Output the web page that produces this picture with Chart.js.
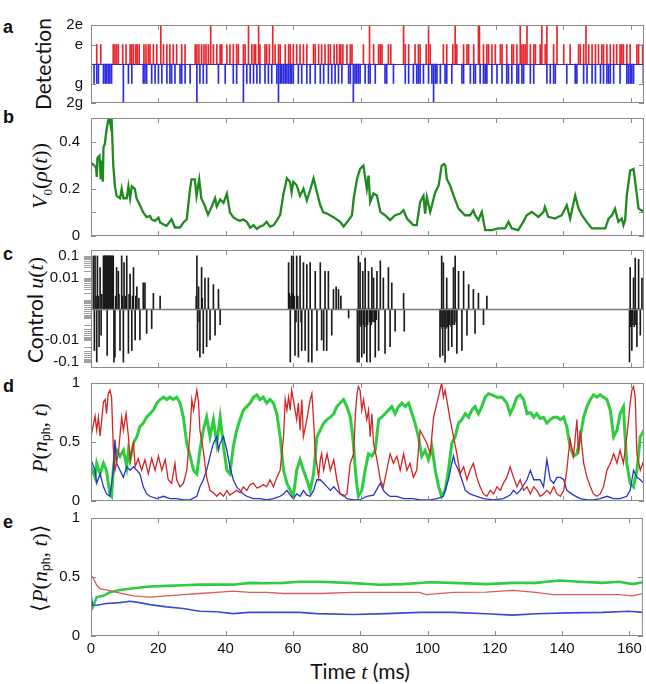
<!DOCTYPE html>
<html><head><meta charset="utf-8">
<script src="https://cdn.jsdelivr.net/npm/chart.js@4/dist/chart.umd.min.js"></script>
<style>
body{margin:0;background:#fff;}
#wrap{position:relative;width:646px;height:684px;overflow:hidden;background:#fff;}
#wrap canvas{position:absolute;left:0;}
.lab{position:absolute;white-space:nowrap;transform:translate(-50%,-50%) rotate(-90deg);font-family:Lato,sans-serif;font-size:21px;color:#111;line-height:1;}
.pl{position:absolute;font:bold 18px "Liberation Sans",sans-serif;color:#111;}
.m{font-family:"Liberation Serif",serif;font-style:italic;}
.r{font-family:"Liberation Serif",serif;font-style:normal;}
sub{font-size:60%;}
.ph{font-family:"Liberation Sans",sans-serif;font-style:normal;font-size:55%;vertical-align:-0.3em;}
</style></head>
<body><div id="wrap">
<div class="pl" style="left:3px;top:17px;">a</div>
<div class="pl" style="left:3px;top:107px;">b</div>
<div class="pl" style="left:3px;top:244px;">c</div>
<div class="pl" style="left:3px;top:376px;">d</div>
<div class="pl" style="left:3px;top:512px;">e</div>
<div class="lab" style="left:42px;top:64px;">Detection</div>
<div class="lab" style="left:41px;top:176px;font-size:22px;"><span class="m">V</span><sub class="r">0</sub><span class="r">(</span><span class="m">ρ</span><span class="r">(</span><span class="m">t</span><span class="r">))</span></div>
<div class="lab" style="left:35px;top:310px;">Control <span class="m" style="font-size:22px;">u</span><span class="r" style="font-size:22px;">(</span><span class="m" style="font-size:22px;">t</span><span class="r" style="font-size:22px;">)</span></div>
<div class="lab" style="left:40px;top:438px;font-size:22px;"><span class="m">P</span><span class="r">(</span><span class="m">n</span><span class="ph">ph</span><span class="r">, </span><span class="m">t</span><span class="r">)</span></div>
<div class="lab" style="left:40px;top:568px;font-size:22px;"><span class="r">⟨</span><span class="m">P</span><span class="r">(</span><span class="m">n</span><span class="ph">ph</span><span class="r">, </span><span class="m">t</span><span class="r">)⟩</span></div>
<div style="position:absolute;left:360px;top:671px;transform:translate(-50%,-50%);white-space:nowrap;font-family:Lato,sans-serif;font-size:21px;color:#111;">Time <span class="m" style="font-size:22px;">t</span> (ms)</div>
</div>
<script>
// ---------------- DATA ----------------
const xTickValues = [0,20,40,60,80,100,120,140,160];
const X_MAX = 164;

// Panel a: detection times (ms)
const detE = [1.7,2.9,6.6,7.1,7.6,8.1,9.4,10.4,11.6,12.1,12.6,13.3,13.7,14.3,15.7,16.3,17.0,17.5,18.5,19.5,21.5,22.5,23.4,24.4,25.4,26.9,27.9,30.9,31.4,32.0,32.8,33.5,34.1,34.8,36.3,37.3,38.3,38.8,40.3,41.2,42.2,43.2,43.7,45.2,45.7,47.7,48.4,48.8,50.1,51.6,52.1,52.9,54.6,55.6,56.1,57.6,58.6,59.1,60.0,61.0,62.0,63.0,64.0,66.0,66.5,67.5,68.4,69.4,70.4,71.0,72.1,72.9,73.7,74.1,74.7,75.9,76.9,77.4,80.8,83.8,85.3,85.8,86.3,88.2,88.9,93.2,94.2,96.1,97.1,97.6,99.4,100.6,104.5,105.5,107.3,108.5,110.5,111.5,112.0,113.5,116.4,117.4,117.9,118.9,119.9,121.4,121.9,123.3,124.8,125.3,126.3,127.8,128.3,128.8,130.3,131.3,131.8,133.2,134.7,137.2,140.2,142.1,144.6,145.1,146.1,147.6,148.6,149.6,150.5,151.5,152.0,153.0,154.0,155.0,155.9,156.9,157.4,157.9,158.9,159.9,161.9,162.4,163.6];
const detE2 = [20.7,35.5,46.7,49.7,53.9,82.6,92.7,100.1,108.0,114.9,115.2,127.3,129.3,133.7,135.2,138.2,146.8];
const detG = [0.9,1.7,2.2,3.7,4.2,4.6,5.1,5.6,6.1,11.1,12.1,15.5,16.0,16.5,18.0,19.0,20.0,21.0,22.5,23.4,23.9,24.9,26.4,26.9,27.9,29.4,32.3,33.3,34.3,37.8,39.8,42.2,43.2,46.2,47.2,48.2,49.2,50.1,51.6,52.6,53.6,55.1,56.1,56.6,57.1,57.6,58.1,58.6,59.1,59.5,60.0,61.5,62.5,64.0,65.0,66.5,68.0,69.0,70.4,71.4,72.4,73.4,74.4,76.4,76.9,78.3,78.8,79.3,79.8,81.3,82.3,82.8,84.3,87.2,87.7,89.7,93.2,94.2,95.6,96.6,97.1,97.6,98.6,100.1,101.1,102.1,102.6,103.6,105.0,105.5,107.0,110.0,110.5,112.5,113.5,114.0,115.4,116.4,116.9,117.4,118.9,120.4,121.9,123.3,123.8,124.8,126.3,126.8,127.8,128.3,130.3,131.3,135.2,136.2,137.2,137.7,141.1,143.6,144.1,146.1,147.1,148.6,149.6,151.1,152.0,153.0,153.5,154.0,155.0,156.9,158.9,159.4,159.9,160.4,160.9,163.8];
const detG2 = [9.6,31.4,45.2,55.6,77.8,101.6];
const detLevels = {e:1, e2:2, g:-1, g2:-2};
const detTickLabels = {'2':'2e','1':'e','-1':'g','-2':'2g'};

// Panel b: V0(rho(t)) as [t, value]
const v0 = [[0,0.31],[0.9,0.30],[1.5,0.29],[1.7,0.25],[1.9,0.33],[2.5,0.34],[2.9,0.24],[3.2,0.32],[3.5,0.23],[3.7,0.375],[4.1,0.39],[4.6,0.45],[5.1,0.49],[5.4,0.50],[5.8,0.47],[6.1,0.50],[6.6,0.30],[7.1,0.21],[7.6,0.17],[8.6,0.16],[9.1,0.20],[9.6,0.16],[10.6,0.16],[11.1,0.21],[11.6,0.16],[12.1,0.21],[13.0,0.20],[13.5,0.16],[14.5,0.13],[15.5,0.10],[16.5,0.08],[17.5,0.085],[18.0,0.07],[19.0,0.064],[20.0,0.078],[20.5,0.057],[21.4,0.05],[22.4,0.043],[23.9,0.071],[24.9,0.036],[26.4,0.036],[27.4,0.057],[28.4,0.071],[29.3,0.19],[29.8,0.24],[30.8,0.24],[31.3,0.17],[32.1,0.24],[32.7,0.16],[33.7,0.13],[34.7,0.09],[35.8,0.125],[36.8,0.16],[37.3,0.125],[38.3,0.155],[39.3,0.14],[40.3,0.18],[41.2,0.10],[42.2,0.08],[43.2,0.07],[44.2,0.065],[45.2,0.07],[46.2,0.06],[47.2,0.035],[48.2,0.045],[49.2,0.03],[50.1,0.04],[51.1,0.045],[52.1,0.06],[53.1,0.04],[54.1,0.045],[55.1,0.065],[56.1,0.09],[57.1,0.18],[58.1,0.245],[59.0,0.23],[59.5,0.185],[60.0,0.23],[61.0,0.215],[62.0,0.17],[63.0,0.2],[64.0,0.15],[65.0,0.195],[66.0,0.245],[67.0,0.185],[68.0,0.13],[68.9,0.10],[70.0,0.095],[71.9,0.08],[73.9,0.06],[74.9,0.04],[76.4,0.067],[77.4,0.088],[77.9,0.158],[78.9,0.243],[79.8,0.284],[80.8,0.298],[81.8,0.20],[82.3,0.256],[82.8,0.144],[83.8,0.18],[84.8,0.172],[85.8,0.102],[87.2,0.088],[88.7,0.067],[90.2,0.088],[91.7,0.095],[92.7,0.109],[93.7,0.074],[95.6,0.046],[96.6,0.046],[97.6,0.144],[98.6,0.17],[99.1,0.095],[99.6,0.165],[100.6,0.102],[102.1,0.186],[103.1,0.214],[104.0,0.298],[104.7,0.305],[105.1,0.298],[105.5,0.243],[106.5,0.214],[107.5,0.172],[109.0,0.116],[110.9,0.088],[112.4,0.088],[113.4,0.109],[113.9,0.088],[114.9,0.067],[115.9,0.102],[116.9,0.025],[118.9,0.025],[120.8,0.032],[122.8,0.032],[123.8,0.06],[124.8,0.032],[126.7,0.025],[128.2,0.06],[129.2,0.088],[130.7,0.102],[132.7,0.081],[134.2,0.102],[134.6,0.123],[135.6,0.081],[137.6,0.074],[139.6,0.088],[141.1,0.13],[142.1,0.074],[143.6,0.172],[144.6,0.116],[145.6,0.088],[147.0,0.06],[148.5,0.032],[150.5,0.032],[152.5,0.032],[153.5,0.074],[154.5,0.088],[155.4,0.116],[156.4,0.06],[157.4,0.074],[157.9,0.046],[158.4,0.067],[158.9,0.172],[159.9,0.277],[160.9,0.284],[161.4,0.228],[162.4,0.116],[164,0.102]];
const v0Ticks = [0,0.1,0.2,0.3,0.4,0.5];
const v0TickLabels = {'0':'0','0.2':'0.2','0.4':'0.4'};

// Panel c: control pulses [t, u]
const control = [
[0.7,0.1],[1.2,0.1],[1.9,0.1],[2.7,0.03],[3.7,0.1],[3.9,0.1],[4.2,0.1],[4.4,0.1],[4.6,0.1],[4.9,0.1],[5.1,0.1],[5.3,0.1],[5.6,0.1],[5.8,0.1],[6.1,0.1],[6.3,0.1],[6.6,0.1],[7.6,0.03],[8.1,0.02],[9.1,0.1],[9.8,0.05],[10.6,0.1],[11.6,0.015],[12.6,0.03],[13.6,0.004],[15.5,0.006],[16.0,0.006],[18.5,0.002],[20.5,0.0015],
[1.5,0.0015],[2.2,0.0015],[3.2,0.0018],[7.3,0.0015],[8.3,0.0018],[9.3,0.0015],[10.2,0.0015],[11.3,0.0018],[12.3,0.0015],[13.3,0.0015],[14.2,0.0012],
[1.0,-0.03],[1.7,-0.1],[2.4,-0.02],[3.0,-0.006],[4.8,-0.05],[6.8,-0.1],[7.1,-0.06],[8.6,-0.03],[9.6,-0.1],[11.1,-0.04],[12.1,-0.03],[13.1,-0.01],[14.5,-0.01],[16.5,-0.005],[18.0,-0.003],
[31.4,0.1],[31.9,0.004],[32.8,0.03],[33.8,0.01],[34.8,0.01],[36.3,0.005],[37.8,0.003],[31.6,-0.03],[32.3,-0.06],[33.3,-0.04],[34.3,-0.02],[35.3,-0.01],[36.8,-0.006],[38.3,-0.002],[31.2,0.0015],[32.1,-0.0015],[33.0,0.0012],
[58.6,0.05],[59.5,0.1],[60.0,0.1],[61.0,0.1],[62.0,0.1],[63.0,0.05],[64.0,0.04],[65.0,0.05],[66.5,0.02],[68.0,0.05],[69.4,0.02],[70.4,0.02],[71.9,0.003],[72.7,0.004],[73.4,0.003],[74.1,0.0015],
[59.1,-0.1],[60.5,-0.05],[61.5,-0.06],[62.5,-0.03],[63.5,-0.03],[64.5,-0.1],[65.5,-0.1],[67.0,-0.03],[68.4,-0.01],[69.0,-0.03],[69.9,-0.03],[71.4,-0.006],[76.4,-0.001],
[58.8,0.002],[59.3,0.0015],[59.8,0.002],[60.3,0.0015],[60.8,-0.0015],[61.3,0.0015],[62.3,-0.0015],
[79.3,0.1],[79.8,0.05],[80.6,0.02],[81.3,0.08],[82.3,0.02],[83.3,0.03],[83.8,0.01],[84.8,0.02],[85.8,0.06],[86.7,0.01],[88.2,0.03],[89.2,0.006],[92.7,0.002],
[79.0,-0.1],[79.5,-0.1],[80.3,-0.06],[81.0,-0.04],[81.8,-0.1],[82.8,-0.1],[84.3,-0.06],[85.3,-0.03],[87.2,-0.04],[88.7,-0.02],[90.2,-0.004],[92.9,-0.004],
[79.7,-0.002],[80.1,-0.0025],[80.8,-0.002],[81.6,-0.0025],[82.0,-0.002],[82.6,-0.0015],[83.1,-0.002],[83.6,-0.0015],[84.1,-0.0015],[84.6,-0.0012],
[104.0,0.1],[104.5,0.05],[105.5,0.01],[107.5,0.03],[108.0,0.1],[109.0,0.02],[110.5,0.02],[112.0,0.005],[113.4,0.003],[114.9,0.002],[117.4,0.0015],
[103.5,-0.06],[104.3,-0.05],[105.0,-0.1],[106.0,-0.03],[107.0,-0.02],[108.5,-0.04],[110.0,-0.03],[111.5,-0.006],[113.9,-0.005],[116.4,-0.002],
[103.8,-0.0025],[104.2,-0.003],[104.7,-0.0025],[105.3,-0.003],[105.8,-0.0025],[106.3,-0.002],[106.8,-0.0025],[107.3,-0.002],[107.8,-0.002],[108.3,-0.0015],
[159.9,0.03],[160.9,0.01],[161.4,0.08],[162.4,0.07],[163.4,0.01],[159.7,-0.1],[160.4,-0.03],[161.9,-0.02],[162.9,-0.006],
[159.8,-0.002],[160.1,-0.0025],[160.6,-0.002],[161.1,-0.0025],[161.6,-0.002]];
const controlTicks = [0.1,0.09,0.08,0.07,0.06,0.05,0.04,0.03,0.02,0.01,0.009,0.008,0.007,0.006,0.005,0.004,0.003,0.002,0.001,0.0009,0.0008,0.0007,0.0006,0.0005,0.0004];
const controlTickLabels = {'-0.1':'-0.1','-0.01':'-0.01','0.01':'0.01','0.1':'0.1'};

// Panel d: P(n_ph, t) single trajectory [t, P]
const pRed = [[0,0.545],[1.2,0.72],[1.7,0.6],[2.2,0.71],[2.7,0.55],[3.7,0.84],[4.2,0.86],[4.6,0.74],[5.1,0.91],[5.6,0.94],[6.1,0.88],[6.6,0.46],[7.1,0.26],[8.1,0.40],[9.1,0.71],[9.6,0.6],[10.4,0.74],[11.1,0.545],[11.6,0.35],[12.6,0.49],[13.1,0.29],[14.0,0.36],[15.0,0.26],[16.0,0.35],[17.0,0.23],[18.0,0.36],[19.0,0.26],[20.0,0.38],[21.0,0.26],[22.0,0.35],[22.9,0.18],[23.9,0.15],[24.9,0.32],[25.4,0.18],[26.4,0.12],[27.4,0.15],[28.4,0.26],[29.4,0.6],[29.9,0.86],[30.4,0.77],[31.4,0.94],[31.9,0.83],[32.3,0.6],[33.3,0.43],[34.3,0.2],[35.3,0.09],[36.3,0.07],[37.3,0.04],[38.3,0.07],[39.3,0.04],[40.3,0.09],[41.2,0.05],[42.2,0.07],[43.2,0.09],[44.2,0.07],[45.2,0.12],[46.2,0.09],[47.2,0.14],[48.2,0.15],[49.2,0.11],[50.1,0.12],[51.1,0.14],[52.1,0.12],[53.1,0.18],[54.1,0.12],[55.1,0.2],[56.1,0.26],[57.1,0.545],[57.6,0.86],[58.1,0.77],[58.6,0.88],[59.1,0.77],[59.5,0.94],[60.0,0.86],[61.0,0.69],[61.5,0.83],[62.0,0.6],[62.5,0.86],[63.0,0.545],[64.0,0.69],[65.0,0.86],[65.5,0.91],[66.0,0.69],[66.5,0.40],[67.5,0.2],[68.0,0.35],[68.4,0.40],[69.0,0.26],[70.0,0.40],[71.0,0.26],[72.0,0.35],[72.9,0.18],[73.9,0.06],[74.9,0.04],[75.9,0.06],[76.9,0.32],[77.9,0.40],[78.4,0.74],[78.9,0.91],[79.3,0.97],[79.8,0.94],[80.3,0.77],[80.8,0.86],[81.8,0.69],[82.3,0.77],[82.8,0.545],[83.3,0.74],[83.8,0.49],[84.8,0.35],[85.8,0.18],[86.7,0.12],[87.7,0.26],[88.7,0.40],[89.7,0.32],[90.7,0.38],[91.7,0.26],[92.7,0.40],[93.7,0.26],[94.6,0.32],[95.6,0.2],[96.6,0.26],[97.6,0.6],[98.6,0.545],[99.6,0.49],[100.6,0.40],[101.6,0.71],[102.6,0.83],[103.5,0.94],[104.0,1.0],[104.5,0.88],[105.0,0.94],[105.5,0.86],[106.5,0.69],[107.5,0.545],[108.5,0.40],[109.5,0.23],[110.5,0.29],[111.5,0.18],[112.4,0.26],[113.4,0.32],[114.4,0.2],[115.4,0.12],[116.4,0.06],[117.4,0.04],[118.4,0.09],[119.4,0.06],[120.4,0.12],[121.4,0.09],[122.3,0.15],[123.3,0.2],[124.3,0.29],[125.3,0.2],[126.3,0.12],[127.3,0.18],[128.3,0.09],[129.3,0.12],[130.3,0.06],[131.3,0.12],[132.2,0.09],[133.2,0.04],[134.2,0.06],[135.2,0.09],[136.2,0.06],[137.2,0.12],[138.2,0.06],[139.2,0.04],[140.2,0.09],[141.1,0.26],[141.6,0.40],[142.1,0.52],[143.1,0.38],[144.1,0.69],[144.6,0.40],[145.1,0.6],[146.1,0.32],[147.1,0.2],[148.1,0.12],[149.0,0.06],[150.0,0.04],[151.0,0.06],[152.0,0.12],[153.0,0.26],[154.0,0.32],[155.0,0.40],[156.0,0.32],[156.9,0.43],[157.9,0.32],[158.9,0.545],[159.9,0.83],[160.4,0.94],[160.9,0.97],[161.4,0.88],[161.9,0.40],[162.9,0.26],[164,0.35]];
const pGreen = [[0,0.29],[1.2,0.2],[1.7,0.32],[2.7,0.23],[3.7,0.32],[4.6,0.26],[5.6,0.06],[6.1,0.04],[6.6,0.26],[7.1,0.40],[7.6,0.43],[8.6,0.38],[9.6,0.43],[10.6,0.29],[11.1,0.43],[11.6,0.35],[12.6,0.49],[13.6,0.545],[14.5,0.63],[15.5,0.66],[16.5,0.71],[17.5,0.74],[18.5,0.77],[19.5,0.83],[20.5,0.86],[21.5,0.88],[22.5,0.86],[23.4,0.88],[24.4,0.86],[25.4,0.88],[26.4,0.83],[27.4,0.71],[28.4,0.49],[29.4,0.38],[30.4,0.26],[31.4,0.23],[32.3,0.43],[33.3,0.6],[34.3,0.71],[35.3,0.545],[36.3,0.69],[37.3,0.49],[38.3,0.71],[39.3,0.46],[40.3,0.26],[41.2,0.23],[42.2,0.46],[43.2,0.6],[44.2,0.69],[45.2,0.77],[46.2,0.8],[47.2,0.83],[48.2,0.88],[49.2,0.9],[50.1,0.86],[51.1,0.88],[52.1,0.83],[53.1,0.86],[54.1,0.83],[55.1,0.74],[56.1,0.545],[57.1,0.26],[58.1,0.15],[59.1,0.09],[60.0,0.04],[61.0,0.26],[62.0,0.35],[63.0,0.26],[64.0,0.18],[65.0,0.09],[66.0,0.23],[67.0,0.545],[68.0,0.6],[69.0,0.66],[70.0,0.69],[71.0,0.71],[72.0,0.74],[72.9,0.8],[73.9,0.83],[74.9,0.86],[75.9,0.8],[76.9,0.71],[77.4,0.6],[77.9,0.46],[78.4,0.26],[78.9,0.12],[79.3,0.04],[80.3,0.09],[81.3,0.26],[82.3,0.40],[83.3,0.38],[84.3,0.43],[85.3,0.69],[86.2,0.71],[87.2,0.74],[88.2,0.77],[89.2,0.8],[90.2,0.74],[91.2,0.8],[92.2,0.83],[93.2,0.8],[94.2,0.83],[95.2,0.74],[96.1,0.66],[97.1,0.545],[98.1,0.38],[99.1,0.43],[100.1,0.35],[101.1,0.46],[102.1,0.26],[103.1,0.12],[104.0,0.04],[105.0,0.09],[106.0,0.26],[107.0,0.49],[108.0,0.545],[109.0,0.66],[110.0,0.69],[111.0,0.74],[112.0,0.71],[112.9,0.77],[113.9,0.8],[114.9,0.74],[115.9,0.8],[116.9,0.88],[117.9,0.91],[118.9,0.9],[120.4,0.88],[121.9,0.88],[123.3,0.83],[124.3,0.74],[125.3,0.8],[126.3,0.88],[127.3,0.9],[128.3,0.86],[129.3,0.74],[130.3,0.75],[131.3,0.71],[132.2,0.74],[133.2,0.7],[134.2,0.71],[135.2,0.66],[136.2,0.69],[137.2,0.71],[138.2,0.71],[139.2,0.69],[140.2,0.71],[141.1,0.63],[142.1,0.46],[143.1,0.38],[144.1,0.40],[145.1,0.545],[146.1,0.71],[147.1,0.8],[148.1,0.86],[149.0,0.9],[150.0,0.88],[151.0,0.9],[152.0,0.88],[153.0,0.86],[154.0,0.77],[155.0,0.545],[156.0,0.6],[156.9,0.74],[157.9,0.8],[158.4,0.545],[158.9,0.32],[159.9,0.15],[160.9,0.12],[161.9,0.26],[162.9,0.545],[164,0.6]];
const pBlue = [[0,0.35],[1.2,0.26],[1.7,0.15],[2.7,0.23],[3.7,0.12],[4.6,0.06],[5.6,0.04],[6.6,0.26],[7.1,0.52],[7.6,0.32],[8.6,0.26],[9.6,0.2],[10.6,0.29],[11.6,0.26],[12.6,0.29],[13.6,0.26],[14.5,0.23],[15.5,0.12],[16.5,0.06],[17.5,0.04],[19.5,0.02],[21.5,0.04],[23.4,0.02],[25.4,0.02],[27.4,0.01],[29.4,0.01],[31.4,0.04],[32.3,0.12],[33.3,0.18],[34.3,0.26],[35.3,0.38],[36.3,0.49],[37.3,0.545],[37.8,0.43],[38.3,0.49],[39.3,0.545],[40.3,0.43],[41.2,0.29],[42.2,0.18],[43.2,0.12],[44.2,0.09],[45.2,0.06],[46.2,0.04],[48.2,0.02],[50.1,0.02],[52.1,0.01],[54.1,0.02],[56.1,0.04],[57.1,0.06],[58.1,0.09],[59.1,0.05],[60.0,0.02],[61.0,0.06],[62.0,0.04],[63.0,0.09],[64.0,0.05],[65.0,0.04],[66.0,0.09],[67.0,0.18],[68.0,0.18],[69.0,0.15],[70.0,0.12],[71.0,0.09],[72.0,0.12],[72.9,0.09],[73.9,0.06],[74.9,0.05],[75.9,0.02],[77.9,0.01],[79.8,0.01],[81.8,0.04],[83.8,0.05],[85.8,0.15],[86.7,0.09],[87.7,0.06],[88.7,0.04],[90.7,0.04],[92.7,0.02],[95.6,0.02],[97.6,0.01],[100.6,0.01],[102.6,0.02],[104.5,0.04],[106.0,0.18],[107.0,0.32],[107.5,0.38],[108.0,0.32],[109.0,0.26],[110.0,0.18],[111.0,0.09],[112.4,0.06],[114.4,0.04],[116.4,0.02],[119.4,0.01],[122.3,0.02],[124.3,0.05],[125.3,0.09],[126.3,0.06],[127.3,0.09],[129.3,0.18],[130.3,0.26],[131.3,0.18],[133.2,0.18],[134.2,0.12],[135.2,0.35],[136.2,0.18],[137.2,0.15],[138.2,0.2],[139.2,0.2],[140.2,0.18],[141.1,0.09],[143.1,0.05],[145.1,0.02],[147.1,0.01],[149.0,0.01],[151.0,0.02],[153.0,0.04],[155.0,0.02],[156.9,0.02],[158.9,0.04],[159.9,0.09],[160.9,0.26],[161.9,0.2],[162.9,0.18],[164,0.15]];
const pTicks = [0,0.5,1];

// Panel e: averaged <P(n_ph, t)> [t, P]
const avgRed = [[0,0.51],[0.5,0.5],[1.7,0.43],[2.7,0.40],[4.6,0.39],[7.6,0.37],[12.6,0.34],[17.5,0.33],[22.5,0.34],[27.4,0.35],[32.3,0.36],[37.3,0.37],[42.2,0.38],[47.2,0.37],[52.1,0.37],[57.1,0.36],[62.0,0.36],[68,0.36],[77.9,0.37],[87.7,0.37],[97.6,0.37],[99.6,0.35],[107.5,0.37],[117.4,0.372],[125.3,0.386],[132.2,0.37],[137.2,0.35],[147.1,0.35],[156.9,0.35],[160.9,0.34],[164,0.36]];
const avgGreen = [[0,0.22],[0.5,0.24],[1.7,0.33],[3.7,0.34],[5.6,0.37],[8.6,0.39],[12.6,0.405],[17.5,0.42],[22.5,0.425],[27.4,0.43],[32.3,0.435],[37.3,0.435],[42.2,0.435],[47.2,0.45],[52.1,0.447],[57.1,0.45],[62.0,0.46],[68,0.46],[77.9,0.448],[85.8,0.434],[92.7,0.44],[100.6,0.455],[107.5,0.45],[117.4,0.44],[125.3,0.45],[132.2,0.45],[139.2,0.47],[145.1,0.46],[152.0,0.45],[156.9,0.46],[160.9,0.44],[164,0.455]];
const avgBlue = [[0,0.35],[0.5,0.26],[1.7,0.26],[4.6,0.275],[8.6,0.283],[11.6,0.294],[14.5,0.283],[17.5,0.266],[22.5,0.247],[27.4,0.233],[32.3,0.21],[37.3,0.205],[42.2,0.19],[47.2,0.2],[52.1,0.2],[57.1,0.2],[62.0,0.2],[67.0,0.19],[77.9,0.182],[87.7,0.19],[97.6,0.2],[107.5,0.2],[117.4,0.188],[125.3,0.177],[132.2,0.188],[142.1,0.196],[152.0,0.2],[159.9,0.21],[164,0.2]];

// ---------------- RENDERING ----------------
const SYM_OFF = 3.41;   // symmetric-log control axis: decades above the linear threshold
const SYM_RANGE = 2.68; // half-range of the transformed axis
function symT(v){ if(!v) return 0; const s = Math.sign(v); return s*Math.max(0, Math.log10(Math.abs(v)) + SYM_OFF); }
class SymLogScale extends Chart.LinearScale {
  getPixelForValue(v){ return super.getPixelForValue(symT(v)); }
}
SymLogScale.id = 'symlog';
SymLogScale.defaults = Chart.LinearScale.defaults;
Chart.register(SymLogScale);

const boxPlugin = {
  id: 'box',
  afterDatasetsDraw(chart, args, o) {
    const {ctx, chartArea: a} = chart;
    const xs = chart.scales.x, ys = chart.scales.y;
    ctx.save();
    if (o.zeroColor) {
      const y0 = Math.round(ys.getPixelForValue(0)) + 0.5;
      ctx.strokeStyle = o.zeroColor; ctx.lineWidth = o.zeroWidth || 1;
      ctx.beginPath(); ctx.moveTo(a.left, y0); ctx.lineTo(a.right, y0); ctx.stroke();
    }
    ctx.strokeStyle = '#8a8a8a'; ctx.lineWidth = 1;
    ctx.strokeRect(a.left + 0.5, a.top + 0.5, a.right - a.left - 1, a.bottom - a.top - 1);
    ctx.beginPath();
    const L = 5;
    xs.ticks.forEach(t => {
      const x = Math.round(xs.getPixelForValue(t.value)) + 0.5;
      ctx.moveTo(x, a.bottom); ctx.lineTo(x, a.bottom - L);
      ctx.moveTo(x, a.top); ctx.lineTo(x, a.top + L);
    });
    if (!o.outLeft) {
      ys.ticks.forEach(t => {
        const y = Math.round(ys.getPixelForValue(t.value)) + 0.5;
        ctx.moveTo(a.left, y); ctx.lineTo(a.left + L, y);
        ctx.moveTo(a.right, y); ctx.lineTo(a.right - L, y);
      });
    }
    ctx.stroke();
    if (o.outLeft) {
      ctx.strokeStyle = '#a0a0a0';
      ctx.beginPath();
      ys.ticks.forEach(t => {
        if (t.value === 0) return;
        const y = Math.round(ys.getPixelForValue(t.value)) + 0.5;
        ctx.moveTo(a.left - 7, y); ctx.lineTo(a.left, y);
      });
      ctx.stroke();
    }
    ctx.restore();
  }
};

const wrap = document.getElementById('wrap');
const FONT = {family: '"Liberation Sans", Arial, sans-serif', size: 15};
const PAD = 26; // room above/below each plot area for tick-label overflow
function makeCanvas(top, h) {
  const c = document.createElement('canvas');
  c.width = 646; c.height = h;
  c.style.top = top + 'px'; c.style.width = '646px'; c.style.height = h + 'px';
  wrap.appendChild(c);
  return c;
}
function xScale(showLabels, h) {
  return {
    type: 'linear', min: 0, max: X_MAX, offset: false,
    grid: {display: false, drawTicks: false}, border: {display: false},
    afterBuildTicks: s => { s.ticks = xTickValues.map(v => ({value: v})); },
    ticks: {display: showLabels, autoSkip: false, maxRotation: 0, padding: 4, color: '#111', font: FONT, callback: v => String(v)},
    afterFit: s => { s.height = h; }
  };
}
function yScale(extra) {
  return Object.assign({
    type: 'linear',
    grid: {display: false, drawTicks: false}, border: {display: false},
    afterFit: s => { s.width = 91; }
  }, extra);
}
function pts(arr) { return arr.map(p => ({x: p[0], y: p[1]})); }
function mk(top, plotH, bottomExtra, cfg, boxOpts) {
  const h = PAD + plotH + bottomExtra;
  const c = makeCanvas(top - PAD, h);
  cfg.options = Object.assign({
    responsive: false, animation: false, devicePixelRatio: 1,
    layout: {padding: {top: PAD, left: 0, right: 2, bottom: 0}},
    plugins: {legend: {display: false}, tooltip: {enabled: false}, box: boxOpts || {}},
    events: []
  }, cfg.options);
  cfg.plugins = [boxPlugin];
  return new Chart(c, cfg);
}
function lineDs(data, color, w) {
  return {type: 'line', data: pts(data), borderColor: color, borderWidth: w, pointRadius: 0, tension: 0, fill: false};
}

// Panel a
const barsOf = (times, lvl, color) => ({
  data: times.map(t => ({x: t, y: lvl})), backgroundColor: color, borderWidth: 0,
  barThickness: 1, grouped: false
});
mk(25, 78, PAD, {
  type: 'bar',
  data: {datasets: [
    barsOf(detE2, detLevels.e2, '#e8242a'),
    barsOf(detE, detLevels.e, '#e8242a'),
    barsOf(detG2, detLevels.g2, '#2a2ae0'),
    barsOf(detG, detLevels.g, '#2a2ae0')
  ]},
  options: {scales: {
    x: xScale(false, PAD),
    y: yScale({min: -2, max: 2,
      afterBuildTicks: s => { s.ticks = [-2,-1,1,2].map(v => ({value: v})); },
      ticks: {autoSkip: false, padding: 8, color: '#111', font: FONT, callback: v => detTickLabels[String(v)]}})
  }}
}, {zeroColor: '#2a2ae0', zeroWidth: 1});

// Panel b
mk(118, 118, PAD, {
  type: 'line',
  data: {datasets: [lineDs(v0, '#1f8a1f', 2.3)]},
  options: {scales: {
    x: xScale(false, PAD),
    y: yScale({min: 0, max: 0.5,
      afterBuildTicks: s => { s.ticks = v0Ticks.map(v => ({value: v})); },
      ticks: {autoSkip: false, padding: 11, color: '#111', font: FONT,
        callback: v => v0TickLabels[String(+v.toFixed(2))] || ''}})
  }}
});

// Panel c
const ctrlTickVals = controlTicks.concat(controlTicks.map(v => -v), [0]).sort((a, b) => a - b);
mk(250, 118, PAD, {
  type: 'bar',
  data: {datasets: [{
    data: control.map(p => ({x: p[0], y: p[1]})), backgroundColor: '#1a1a1a', borderWidth: 0,
    barThickness: 1, grouped: false
  }]},
  options: {scales: {
    x: xScale(false, PAD),
    y: yScale({type: 'symlog', min: -SYM_RANGE, max: SYM_RANGE,
      afterBuildTicks: s => { s.ticks = ctrlTickVals.map(v => ({value: v})); },
      ticks: {autoSkip: false, padding: 12, color: '#111', font: FONT,
        callback: (v, i) => controlTickLabels[String(ctrlTickVals[i])] || ''}})
  }}
}, {outLeft: true, zeroColor: '#7a7a7a', zeroWidth: 1.5});

// Panel d
mk(383, 118, PAD, {
  type: 'line',
  data: {datasets: [lineDs(pRed, '#d42424', 1.3), lineDs(pBlue, '#2436c8', 1.3), lineDs(pGreen, '#2ecc40', 3)]},
  options: {scales: {
    x: xScale(false, PAD),
    y: yScale({min: 0, max: 1,
      afterBuildTicks: s => { s.ticks = pTicks.map(v => ({value: v})); },
      ticks: {autoSkip: false, padding: 11, color: '#111', font: FONT, callback: v => String(v)}})
  }}
});

// Panel e
mk(518, 118, 46, {
  type: 'line',
  data: {datasets: [lineDs(avgRed, '#e05a5a', 1.3), lineDs(avgBlue, '#3a4ad0', 1.6), lineDs(avgGreen, '#2ecc40', 2.6)]},
  options: {scales: {
    x: xScale(true, 46),
    y: yScale({min: 0, max: 1,
      afterBuildTicks: s => { s.ticks = pTicks.map(v => ({value: v})); },
      ticks: {autoSkip: false, padding: 11, color: '#111', font: FONT, callback: v => String(v)}})
  }}
});
</script>
</body></html>
